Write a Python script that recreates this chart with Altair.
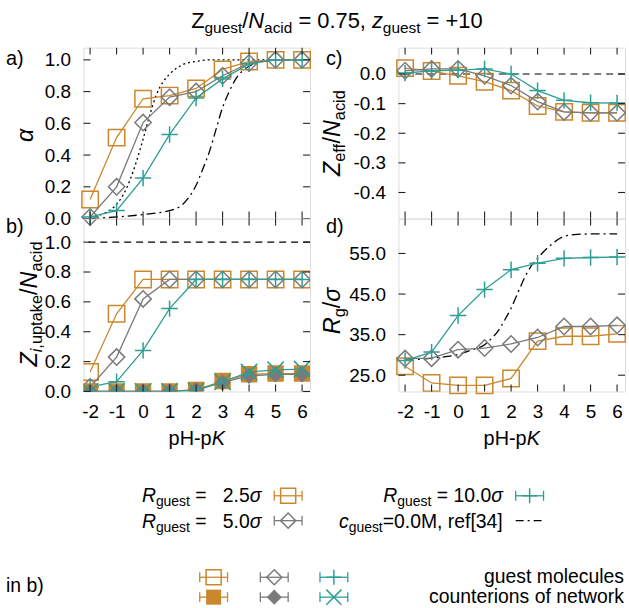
import altair as alt
import pandas as pd

FONT = "Liberation Sans"
ORANGE = "#cb872c"
GRAY = "#7a7a7a"
TEAL = "#2e9e93"

# ---------------- data ----------------
PH = [-2, -1, 0, 1, 2, 3, 4, 5, 6]
X_TICKS = [-2, -1, 0, 1, 2, 3, 4, 5, 6]

# a) degree of ionisation
ALPHA_25 = [0.12, 0.51, 0.755, 0.775, 0.82, 0.94, 0.99, 1.0, 1.0]
ALPHA_50 = [0.01, 0.20, 0.605, 0.765, 0.80, 0.90, 0.98, 1.0, 1.0]
ALPHA_100 = [0.01, 0.05, 0.255, 0.53, 0.76, 0.88, 0.975, 1.0, 1.0]
IDEAL_X = [-2, -1.5, -1, -0.75, -0.5, -0.25, 0, 0.25, 0.5, 0.75, 1, 1.5, 2, 2.5, 3, 4, 5, 6]
IDEAL_ALPHA = [0.01, 0.03, 0.09, 0.15, 0.24, 0.36, 0.50, 0.65, 0.78, 0.86, 0.91, 0.97, 0.99, 1.0, 1.0, 1.0, 1.0, 1.0]
REF_X_A = [-2, -1, 0, 0.5, 1, 1.5, 2, 2.25, 2.5, 2.75, 3, 3.25, 3.5, 4, 4.5, 5, 6]
REF_ALPHA = [0.0, 0.01, 0.025, 0.035, 0.05, 0.09, 0.21, 0.31, 0.42, 0.56, 0.70, 0.80, 0.88, 0.96, 0.99, 1.0, 1.0]

# b) uptake
UPTAKE_25 = [0.13, 0.52, 0.75, 0.75, 0.75, 0.75, 0.75, 0.75, 0.75]
UPTAKE_50 = [0.03, 0.23, 0.62, 0.75, 0.75, 0.75, 0.75, 0.75, 0.75]
UPTAKE_100 = [0.03, 0.065, 0.275, 0.555, 0.75, 0.75, 0.75, 0.75, 0.75]
COUNTER_25 = [0.0, 0.0, 0.0, 0.0, 0.01, 0.07, 0.115, 0.12, 0.12]
COUNTER_50 = [0.0, 0.0, 0.0, 0.0, 0.01, 0.06, 0.105, 0.115, 0.115]
COUNTER_100 = [0.0, 0.0, 0.0, 0.0, 0.005, 0.065, 0.13, 0.145, 0.15]
UPTAKE_REF = [1.0]

# c) effective charge
ZEFF_25 = [0.02, 0.01, -0.006, -0.026, -0.056, -0.108, -0.128, -0.131, -0.131]
ZEFF_50 = [0.011, 0.017, 0.017, -0.006, -0.039, -0.093, -0.128, -0.131, -0.131]
ZEFF_100 = [0.003, 0.011, 0.013, 0.017, 0.0, -0.056, -0.089, -0.097, -0.098]
ZEFF_REF = [0.0]

# d) radius of gyration
RG_25 = [27.2, 23.1, 22.5, 22.5, 24.2, 33.4, 34.6, 34.6, 35.2]
RG_50 = [29.1, 29.2, 31.3, 31.7, 32.7, 34.3, 37.0, 37.0, 37.3]
RG_100 = [28.6, 30.7, 39.7, 46.1, 51.0, 52.6, 53.8, 54.0, 54.1]
REF_X_D = [-2, -1, 0, 0.5, 1, 1.25, 1.5, 1.75, 2, 2.25, 2.5, 2.75, 3, 3.5, 4, 4.5, 5, 6]
REF_RG = [28.7, 29.2, 30.1, 31.2, 32.5, 34.0, 35.8, 38.5, 41.5, 45.2, 48.9, 51.8, 53.8, 57.1, 59.2, 59.7, 59.8, 59.8]

A_TICKS = [0.0, 0.2, 0.4, 0.6, 0.8, 1.0]
B_TICKS = [0.0, 0.2, 0.4, 0.6, 0.8, 1.0]
C_TICKS = [0.0, -0.1, -0.2, -0.3, -0.4]
D_TICKS = [25.0, 35.0, 45.0, 55.0]

# ---------------- geometry ----------------
W = 228
H_TOP = 172
H_BOT = 174
XDOM = [-2.25, 6.3]
ORIG = {"a": (83, 45), "b": (83, 217), "c": (400, 45), "d": (400, 217)}
MSIZE = 272
PLUS = "M-1,0L1,0M0,-1L0,1"
XSHAPE = "M-1,-1L1,1M-1,1L1,-1"

# ---------------- text metrics (Arial / Liberation Sans) ----------------
REG = {' ': 278, '(': 333, ')': 333, '+': 584, ',': 278, '-': 333, '.': 278, '/': 278,
       '=': 584, '[': 278, ']': 278, 'H': 722, 'K': 667, 'M': 833, 'N': 722, 'R': 722, 'Z': 611,
       'a': 556, 'b': 556, 'c': 500, 'd': 556, 'e': 556, 'f': 278, 'g': 556, 'h': 556, 'i': 222,
       'k': 500, 'l': 222, 'm': 833, 'n': 556, 'o': 556, 'p': 556, 'r': 333, 's': 500, 't': 278,
       'u': 556, 'w': 722, 'z': 500, 'σ': 600, 'α': 590, '\u2007': 556}
for _d in "0123456789":
    REG[_d] = 556
ITA = {}


def cw(ch, italic):
    if italic and ch in ITA:
        return ITA[ch]
    return REG.get(ch, 556)


def build(segs, x, y, size, sub=None, shift=5, anchor="start", rot=False):
    sub = sub or size * 0.7
    total = 0.0
    for text, it, s in segs:
        fs = sub if s else size
        total += sum(cw(c, it) for c in text) * fs / 1000.0
    cur = {"start": 0.0, "middle": -total / 2, "end": -total}[anchor]
    rows = []
    for text, it, s in segs:
        fs = sub if s else size
        off = shift if s else 0
        run, run_start = "", cur
        for ch in text + "\0":
            if ch in (" ", "\u2007", "\0"):
                if run:
                    if rot:
                        rows.append(dict(text=run, px=x + off, py=y - run_start, fs=fs, it=it, rot=True))
                    else:
                        rows.append(dict(text=run, px=x + run_start, py=y + off, fs=fs, it=it, rot=False))
                run = ""
                if ch != "\0":
                    cur += cw(ch, it) * fs / 1000.0
                run_start = cur
            else:
                if not run:
                    run_start = cur
                run += ch
                cur += cw(ch, it) * fs / 1000.0
    return rows


def text_layers(rows, origin):
    ox, oy = origin
    layers = []
    for it in (False, True):
        for rot in (False, True):
            sel = [dict(r, px=r["px"] - ox, py=r["py"] - oy) for r in rows if r["it"] == it and r["rot"] == rot]
            if not sel:
                continue
            df = pd.DataFrame(sel)[["text", "px", "py", "fs"]]
            layers.append(
                alt.Chart(df).mark_text(font=FONT, fontStyle="italic" if it else "normal", align="left",
                                        baseline="alphabetic", angle=270 if rot else 0, color="black")
                .encode(x=alt.X("px:Q", scale=None, axis=None), y=alt.Y("py:Q", scale=None, axis=None),
                        text="text:N", size=alt.Size("fs:Q", scale=None, legend=None))
            )
    return layers


def label_expr():
    return "replace(datum.label, '\u2212', '-')"


TICK_FS = 19


def xaxis(show):
    if not show:
        return None
    return alt.Axis(values=X_TICKS, ticks=False, tickSize=0, domain=False, grid=False, title=None,
                    labelFont=FONT, labelFontSize=TICK_FS, labelColor="black", labelPadding=11,
                    labelFlush=False, labelOverlap=False, labelExpr=label_expr())


def yaxis(vals):
    return alt.Axis(values=vals, format=".1f", ticks=False, tickSize=0, domain=False, grid=False, title=None,
                    labelFont=FONT, labelFontSize=TICK_FS, labelColor="black", labelPadding=13,
                    labelFlush=False, labelOverlap=False, labelExpr=label_expr())


def panel(key, h, ydom, yticks, show_x, series, refs, overlay_rows, extra=None, clip=False):
    xs = alt.Scale(domain=XDOM, nice=False, zero=False)
    ys = alt.Scale(domain=ydom, nice=False, zero=False)
    xa = xaxis(show_x)
    ya = yaxis(yticks)

    def X(f):
        return alt.X(f, scale=xs, axis=xa)

    def Y(f):
        return alt.Y(f, scale=ys, axis=ya)

    layers = []
    for r in refs:
        if r["kind"] == "hline":
            df = pd.DataFrame({"v": r["y"]})
            layers.append(alt.Chart(df).mark_rule(color="black", strokeWidth=1.1, strokeDash=r["dash"])
                          .encode(y=Y("v:Q")))
        else:
            df = pd.DataFrame({"x": r["x"], "y": r["y"]})
            layers.append(alt.Chart(df).mark_line(color="black", strokeWidth=1.3, strokeDash=r["dash"],
                                                  interpolate="monotone")
                          .encode(x=X("x:Q"), y=Y("y:Q")))
    for s in series:
        df = pd.DataFrame({"x": PH, "y": s["y"]})
        layers.append(alt.Chart(df).mark_line(color=s["color"], strokeWidth=1.3, clip=clip)
                      .encode(x=X("x:Q"), y=Y("y:Q")))
        layers.append(alt.Chart(df).mark_point(shape=s["shape"], size=MSIZE, filled=s["filled"],
                                               color=s["color"], strokeWidth=1.5, opacity=1, clip=clip)
                      .encode(x=X("x:Q"), y=Y("y:Q")))
    L = 7
    dfx = pd.DataFrame({"t": X_TICKS})
    dfy = pd.DataFrame({"t": yticks})
    tk = dict(color="#222222", strokeWidth=1.1)
    layers.append(alt.Chart(dfx).mark_rule(**tk).encode(x=X("t:Q"), y=alt.value(0), y2=alt.value(L)))
    layers.append(alt.Chart(dfx).mark_rule(**tk).encode(x=X("t:Q"), y=alt.value(h), y2=alt.value(h - L)))
    layers.append(alt.Chart(dfy).mark_rule(**tk).encode(y=Y("t:Q"), x=alt.value(0), x2=alt.value(L)))
    layers.append(alt.Chart(dfy).mark_rule(**tk).encode(y=Y("t:Q"), x=alt.value(W), x2=alt.value(W - L)))
    layers += text_layers(overlay_rows, ORIG[key])
    if extra:
        layers += extra
    return alt.layer(*layers).properties(width=W, height=h)


# ---------------- texts ----------------
TS = 19.5   # legend / labels
SS = 14     # legend subscripts
AX = 23.5   # axis titles
AXS = 16.5

title_rows = build([("Z", False, False), ("guest", False, True), ("/", False, False), ("N", True, False),
                    ("acid", False, True), (" = 0.75, ", False, False), ("z", True, False),
                    ("guest", False, True), (" = +10", False, False)],
                   338, 25, 22, 15.5, 5, anchor="middle")

rows_a = title_rows + build([("a)", False, False)], 5, 62, 20) + \
    build([("α", True, False)], 32, 133, AX, anchor="middle", rot=True)

rows_b = build([("b)", False, False)], 5, 232, 20)
rows_b += build([("Z", True, False), ("i", True, True), (",uptake", False, True), ("/", False, False),
                 ("N", True, False), ("acid", False, True)], 36, 303, AX, AXS, 5, anchor="middle", rot=True)
rows_b += build([("pH-p", False, False), ("K", True, False)], 83 + W / 2, 445, 20, anchor="middle")
rows_b += build([("R", True, False), ("guest", False, True), (" = \u20072.5", False, False), ("σ", True, False)],
                262, 502, TS, SS, 4, anchor="end")
rows_b += build([("R", True, False), ("guest", False, True), (" = \u20075.0", False, False), ("σ", True, False)],
                262, 528, TS, SS, 4, anchor="end")
rows_b += build([("R", True, False), ("guest", False, True), (" = 10.0", False, False), ("σ", True, False)],
                505, 502, TS, SS, 4, anchor="end")
rows_b += build([("c", True, False), ("guest", False, True), ("=0.0M, ref[34]", False, False)],
                505, 528, TS, SS, 4, anchor="end")
rows_b += build([("in b)", False, False)], 5, 593, TS)
rows_b += build([("guest molecules", False, False)], 627, 584, TS, anchor="end")
rows_b += build([("counterions of network", False, False)], 627, 604, TS, anchor="end")

rows_c = build([("c)", False, False)], 327, 62, 20)
rows_c += build([("Z", True, False), ("eff", False, True), ("/", False, False), ("N", True, False),
                 ("acid", False, True)], 341, 131, AX, AXS, 5, anchor="middle", rot=True)

rows_d = build([("d)", False, False)], 327, 232, 20)
rows_d += build([("R", True, False), ("g", False, True), ("/", False, False), ("σ", True, False)],
                341, 310, AX, AXS, 5, anchor="middle", rot=True)
rows_d += build([("pH-p", False, False), ("K", True, False)], 400 + W / 2, 445, 20, anchor="middle")

# ---------------- legend symbols (drawn in panel b's frame) ----------------
bx, by = ORIG["b"]
LEG = [
    (289, 496, ORANGE, "square", False),
    (289, 521, GRAY, "diamond", False),
    (532, 496, TEAL, PLUS, False),
    (214, 578, ORANGE, "square", False),
    (275, 578, GRAY, "diamond", False),
    (335, 578, TEAL, PLUS, False),
    (214, 598, ORANGE, "square", True),
    (275, 598, GRAY, "diamond", True),
    (335, 598, TEAL, XSHAPE, False),
]
seg_rows = []
for cx, cy, col, shp, fil in LEG:
    seg_rows.append(dict(x1=cx - 14 - bx, x2=cx + 14 - bx, y1=cy - by, y2=cy - by, c=col))
    seg_rows.append(dict(x1=cx - 14 - bx, x2=cx - 14 - bx, y1=cy - 5 - by, y2=cy + 5 - by, c=col))
    seg_rows.append(dict(x1=cx + 14 - bx, x2=cx + 14 - bx, y1=cy - 5 - by, y2=cy + 5 - by, c=col))
seg_df = pd.DataFrame(seg_rows)
legend_layers = [
    alt.Chart(seg_df).mark_rule(strokeWidth=1.3).encode(
        x=alt.X("x1:Q", scale=None, axis=None), x2="x2:Q",
        y=alt.Y("y1:Q", scale=None, axis=None), y2="y2:Q",
        color=alt.Color("c:N", scale=None, legend=None)),
    alt.Chart(pd.DataFrame([dict(x1=518 - bx, x2=547 - bx, y=521 - by)])).mark_rule(
        strokeWidth=1.3, color="black", strokeDash=[8, 4, 2, 4]).encode(
        x=alt.X("x1:Q", scale=None, axis=None), x2="x2:Q", y=alt.Y("y:Q", scale=None, axis=None)),
]
groups = {}
for cx, cy, col, shp, fil in LEG:
    groups.setdefault((shp, fil), []).append(dict(px=cx - bx, py=cy - by, c=col))
for (shp, fil), pts in groups.items():
    legend_layers.append(
        alt.Chart(pd.DataFrame(pts)).mark_point(shape=shp, size=230, filled=fil, strokeWidth=1.5, opacity=1)
        .encode(x=alt.X("px:Q", scale=None, axis=None), y=alt.Y("py:Q", scale=None, axis=None),
                color=alt.Color("c:N", scale=None, legend=None)))

anchor = alt.Chart(pd.DataFrame([dict(x1=-83, x2=-82, y1=-45, y2=-44)])).mark_rect(opacity=0).encode(
    x=alt.X("x1:Q", scale=None, axis=None), x2="x2:Q", y=alt.Y("y1:Q", scale=None, axis=None), y2="y2:Q")

# ---------------- panels ----------------
pa = panel("a", H_TOP, [0.0, 1.077], A_TICKS, False,
           [dict(y=ALPHA_25, color=ORANGE, shape="square", filled=False),
            dict(y=ALPHA_50, color=GRAY, shape="diamond", filled=False),
            dict(y=ALPHA_100, color=TEAL, shape=PLUS, filled=False)],
           [dict(kind="curve", x=IDEAL_X, y=IDEAL_ALPHA, dash=[2, 3]),
            dict(kind="curve", x=REF_X_A, y=REF_ALPHA, dash=[9, 4, 2, 4])],
           rows_a, extra=[anchor])

pb = panel("b", H_BOT, [0.0, 1.158], B_TICKS, True,
           [dict(y=UPTAKE_25, color=ORANGE, shape="square", filled=False),
            dict(y=UPTAKE_50, color=GRAY, shape="diamond", filled=False),
            dict(y=UPTAKE_100, color=TEAL, shape=PLUS, filled=False),
            dict(y=COUNTER_25, color=ORANGE, shape="square", filled=True),
            dict(y=COUNTER_50, color=GRAY, shape="diamond", filled=True),
            dict(y=COUNTER_100, color=TEAL, shape=XSHAPE, filled=False)],
           [dict(kind="hline", y=UPTAKE_REF, dash=[7, 5])],
           rows_b, extra=legend_layers, clip=True)

pc = panel("c", H_TOP, [-0.488, 0.089], C_TICKS, False,
           [dict(y=ZEFF_25, color=ORANGE, shape="square", filled=False),
            dict(y=ZEFF_50, color=GRAY, shape="diamond", filled=False),
            dict(y=ZEFF_100, color=TEAL, shape=PLUS, filled=False)],
           [dict(kind="hline", y=ZEFF_REF, dash=[7, 5])],
           rows_c)

pd_ = panel("d", H_BOT, [21.0, 63.6], D_TICKS, True,
            [dict(y=RG_25, color=ORANGE, shape="square", filled=False),
             dict(y=RG_50, color=GRAY, shape="diamond", filled=False),
             dict(y=RG_100, color=TEAL, shape=PLUS, filled=False)],
            [dict(kind="curve", x=REF_X_D, y=REF_RG, dash=[9, 4, 2, 4])],
            rows_d)

chart = alt.concat(pa, pc, pb, pd_, columns=2, spacing={"row": 0, "column": 89},
                   bounds="flush", align="each").properties(
    padding={"left": 0, "top": 0, "right": 0, "bottom": 0}
).configure_view(stroke="#1e1e1e", strokeWidth=1.2).configure(background="white", font=FONT)

chart.save("out.html", embed_options={"renderer": "svg", "actions": False})
